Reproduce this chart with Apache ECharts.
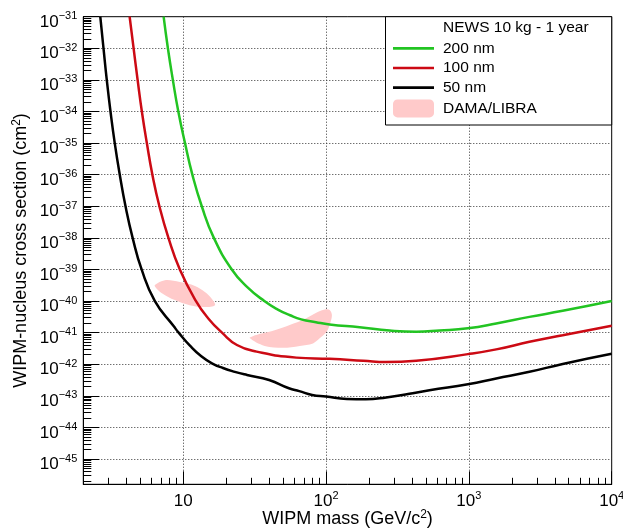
<!DOCTYPE html>
<html><head><meta charset="utf-8">
<script src="https://cdn.jsdelivr.net/npm/echarts@6/dist/echarts.min.js"></script>
<style>html,body{margin:0;padding:0;background:#fff}#c{width:623px;height:531px}</style>
</head><body><div id="c"></div>
<script>
const FONT = "'Liberation Sans', Arial, Helvetica, sans-serif";

// axis ranges and tick labels
const xMin = 2, xMax = 10000;
const yMin = 1.585e-46, yMax = 1e-31;
const xMajorTicks = [10, 100, 1000, 10000];
const yMajorTicks = [1e-45, 1e-44, 1e-43, 1e-42, 1e-41, 1e-40, 1e-39, 1e-38, 1e-37, 1e-36, 1e-35, 1e-34, 1e-33, 1e-32, 1e-31];

// NEWS 10 kg - 1 year : 200 nm
const mass200 = [7.30, 7.82, 8.47, 9.25, 10.3, 11.6, 13.5, 16.4, 21.9, 28, 37, 46, 56, 67, 85, 106, 172, 279, 428, 624, 984, 1555, 2657, 4540, 10000];
const xsec200 = [1e-31, 1e-32, 1e-33, 1e-34, 1e-35, 1e-36, 1e-37, 1e-38, 1e-39, 2.82e-40, 1e-40, 5.37e-41, 3.55e-41, 2.63e-41, 2.14e-41, 1.82e-41, 1.48e-41, 1.17e-41, 1.07e-41, 1.17e-41, 1.38e-41, 1.95e-41, 3.16e-41, 4.90e-41, 1e-40];

// 100 nm
const mass100 = [4.22, 4.50, 4.80, 5.14, 5.57, 6.09, 6.82, 7.89, 9.48, 12.3, 15.0, 18.7, 23.8, 32.7, 62, 106, 182, 263, 428, 984, 1555, 2657, 4540, 10000];
const xsec100 = [1e-31, 1e-32, 1e-33, 1e-34, 1e-35, 1e-36, 1e-37, 1e-38, 1e-39, 1e-40, 2.82e-41, 1e-41, 4.07e-42, 2.51e-42, 1.62e-42, 1.48e-42, 1.29e-42, 1.17e-42, 1.29e-42, 2.09e-42, 2.95e-42, 5.13e-42, 8.32e-42, 1.66e-41];

// 50 nm
const mass50 = [2.63, 2.77, 2.92, 3.10, 3.32, 3.60, 3.95, 4.43, 5.12, 6.34, 8.6, 9.3, 11.2, 13.4, 15.9, 19, 23, 28, 40, 55, 65, 80, 100, 140, 190, 264, 405, 530, 984, 1555, 2657, 4540, 10000];
const xsec50 = [1e-31, 1e-32, 1e-33, 1e-34, 1e-35, 1e-36, 1e-37, 1e-38, 1e-39, 1e-40, 1.585e-41, 1e-41, 3.80e-42, 1.78e-42, 1.07e-42, 7.59e-43, 5.75e-43, 4.57e-43, 3.16e-43, 1.74e-43, 1.41e-43, 1.07e-43, 9.55e-44, 7.94e-44, 7.76e-44, 8.91e-44, 1.20e-43, 1.51e-43, 2.34e-43, 3.55e-43, 5.75e-43, 1.02e-42, 2.14e-42];

// DAMA/LIBRA contours (low-mass and high-mass regions)
const damaLowMass = [6.34, 7.45, 9.48, 12.1, 14.2, 15.9, 16.7, 14.2, 11.1, 8.75, 7.1, 6.4];
const damaLowXsec = [3.24e-40, 4.57e-40, 3.98e-40, 3.02e-40, 1.95e-40, 1.17e-40, 7.41e-41, 6.46e-41, 7.41e-41, 1.07e-40, 1.78e-40, 2.75e-40];
const damaHighMass = [29.2, 37.2, 50, 65.5, 81.1, 90.3, 101, 107, 110, 106, 98, 87.5, 71, 55.7, 43.7, 35.5, 30.7];
const damaHighXsec = [6.76e-42, 3.80e-42, 3.31e-42, 3.80e-42, 4.57e-42, 6.61e-42, 1.07e-41, 2.0e-41, 3.63e-41, 5.25e-41, 5.37e-41, 4.47e-41, 2.69e-41, 1.74e-41, 1.20e-41, 9.33e-42, 7.76e-42];

const GREEN = '#22c422', RED = '#cc0a14', BLACK = '#000000', PINK = '#ffcaca';
const L = Math.log10;

const lxMin = L(xMin), lxMax = L(xMax), lyMin = L(yMin), lyMax = L(yMax);
const xMajor = xMajorTicks.map(v => Math.round(L(v)));
const yMajor = yMajorTicks.map(v => Math.round(L(v)));
const xMinor = [], yMinor = [];
for (let e = 0; e <= 3; e++) for (let k = 2; k <= 9; k++) { const v = L(k) + e; if (v > lxMin + 1e-9 && v < lxMax) xMinor.push(v); }
for (let e = -46; e <= -32; e++) for (let k = 2; k <= 9; k++) { const v = L(k) + e; if (v > lyMin && v < lyMax) yMinor.push(v); }

const toPts = (ms, ss) => ms.map((m, i) => [L(m), L(ss[i])]);
const damaBlobs = [toPts(damaLowMass, damaLowXsec), toPts(damaHighMass, damaHighXsec)];

const rich = {
  b: { fontSize: 17, lineHeight: 20, verticalAlign: 'bottom', fontFamily: FONT, color: '#000' },
  sup: { fontSize: 11, lineHeight: 11, verticalAlign: 'top', fontFamily: FONT, color: '#000' }
};
const gridLine = { show: true, lineStyle: { color: '#333', width: 1, type: [1, 2] } };

const chart = echarts.init(document.getElementById('c'), null, { renderer: 'canvas' });
const linePath = 'path://M0,0H40V2.6H0Z';
chart.setOption({
  animation: false,
  backgroundColor: '#fff',
  textStyle: { fontFamily: FONT },
  grid: { left: 83.3, right: 11.3, top: 16.7, bottom: 46.7, show: true, borderColor: '#000', borderWidth: 1,
    backgroundColor: 'transparent', containLabel: false, outerBoundsMode: 'none' },
  title: { text: 'NEWS 10 kg - 1 year', left: 443, top: 18.3, padding: 0, z: 20,
    textStyle: { fontSize: 15.5, fontWeight: 'normal', color: '#000', lineHeight: 18, fontFamily: FONT } },
  legend: {
    orient: 'vertical', left: 393, top: 40.3, padding: 0, itemWidth: 41, itemHeight: 18, itemGap: 3.7,
    selectedMode: false, z: 20,
    textStyle: { fontSize: 15.5, color: '#000', fontFamily: FONT, padding: [0, 0, 0, 4] },
    data: [
      { name: '200 nm', icon: linePath, itemStyle: { color: GREEN } },
      { name: '100 nm', icon: linePath, itemStyle: { color: RED } },
      { name: '50 nm', icon: linePath, itemStyle: { color: BLACK } },
      { name: 'DAMA/LIBRA', icon: 'roundRect', itemStyle: { color: PINK } }
    ]
  },
  graphic: [{ type: 'rect', z: 10, shape: { x: 385.5, y: 16.7, width: 226.2, height: 108.3 }, style: { fill: '#fff', stroke: '#000', lineWidth: 1 } }],
  xAxis: [
    { type: 'value', min: lxMin, max: lxMax, position: 'bottom',
      name: 'WIPM mass (GeV/c{sup|2})', nameLocation: 'middle', nameGap: 24, nameMoveOverlap: false,
      nameTextStyle: { fontSize: 18, color: '#000', fontFamily: FONT, lineHeight: 22,
        rich: { sup: { fontSize: 12, lineHeight: 12, verticalAlign: 'top', fontFamily: FONT, color: '#000' } } },
      axisLine: { show: true, lineStyle: { color: '#000', width: 1 } },
      axisTick: { show: true, inside: true, length: 13, customValues: xMajor, lineStyle: { color: '#000', width: 1 } },
      axisLabel: { show: true, customValues: xMajor, margin: 6, rich: rich,
        formatter: v => { const e = Math.round(v); return e === 1 ? '{b|10}' : '{b|10}{sup|' + e + '}'; } },
      splitLine: gridLine },
    { type: 'value', min: lxMin, max: lxMax, position: 'bottom',
      axisLine: { show: false },
      axisTick: { show: true, inside: true, length: 6.5, customValues: xMinor, lineStyle: { color: '#000', width: 1 } },
      axisLabel: { show: false }, splitLine: { show: false } }
  ],
  yAxis: [
    { type: 'value', min: lyMin, max: lyMax, position: 'left',
      name: 'WIPM-nucleus cross section (cm{sup|2})', nameLocation: 'middle', nameGap: 51, nameMoveOverlap: false,
      nameTextStyle: { fontSize: 18, color: '#000', fontFamily: FONT, lineHeight: 22,
        rich: { sup: { fontSize: 12, lineHeight: 12, verticalAlign: 'top', fontFamily: FONT, color: '#000' } } },
      axisLine: { show: true, lineStyle: { color: '#000', width: 1 } },
      axisTick: { show: true, inside: true, length: 16, customValues: yMajor, lineStyle: { color: '#000', width: 1 } },
      axisLabel: { show: true, customValues: yMajor, margin: 6, rich: rich, padding: [8, 0, 0, 0],
        formatter: v => '{b|10}{sup|\u2212' + Math.abs(Math.round(v)) + '}' },
      splitLine: gridLine },
    { type: 'value', min: lyMin, max: lyMax, position: 'left',
      axisLine: { show: false },
      axisTick: { show: true, inside: true, length: 8, customValues: yMinor, lineStyle: { color: '#000', width: 1 } },
      axisLabel: { show: false }, splitLine: { show: false } }
  ],
  series: [
    { type: 'custom', name: 'DAMA/LIBRA', coordinateSystem: 'cartesian2d', xAxisIndex: 0, yAxisIndex: 0, z: 2, clip: true,
      itemStyle: { color: PINK },
      data: damaBlobs.map((b, i) => [b[0][0], b[0][1], i]),
      encode: { x: 0, y: 1 },
      renderItem: (params, api) => {
        const pts = damaBlobs[api.value(2)].map(p => api.coord(p));
        return { type: 'polygon', shape: { points: pts, smooth: 0.35 }, style: { fill: PINK } };
      } },
    { type: 'line', name: '200 nm', data: toPts(mass200, xsec200), symbol: 'none', smooth: 0.5, z: 3,
      lineStyle: { color: GREEN, width: 2.5 }, itemStyle: { color: GREEN } },
    { type: 'line', name: '100 nm', data: toPts(mass100, xsec100), symbol: 'none', smooth: 0.5, z: 3,
      lineStyle: { color: RED, width: 2.5 }, itemStyle: { color: RED } },
    { type: 'line', name: '50 nm', data: toPts(mass50, xsec50), symbol: 'none', smooth: 0.5, z: 3,
      lineStyle: { color: BLACK, width: 2.5 }, itemStyle: { color: BLACK } }
  ]
});
</script></body></html>
